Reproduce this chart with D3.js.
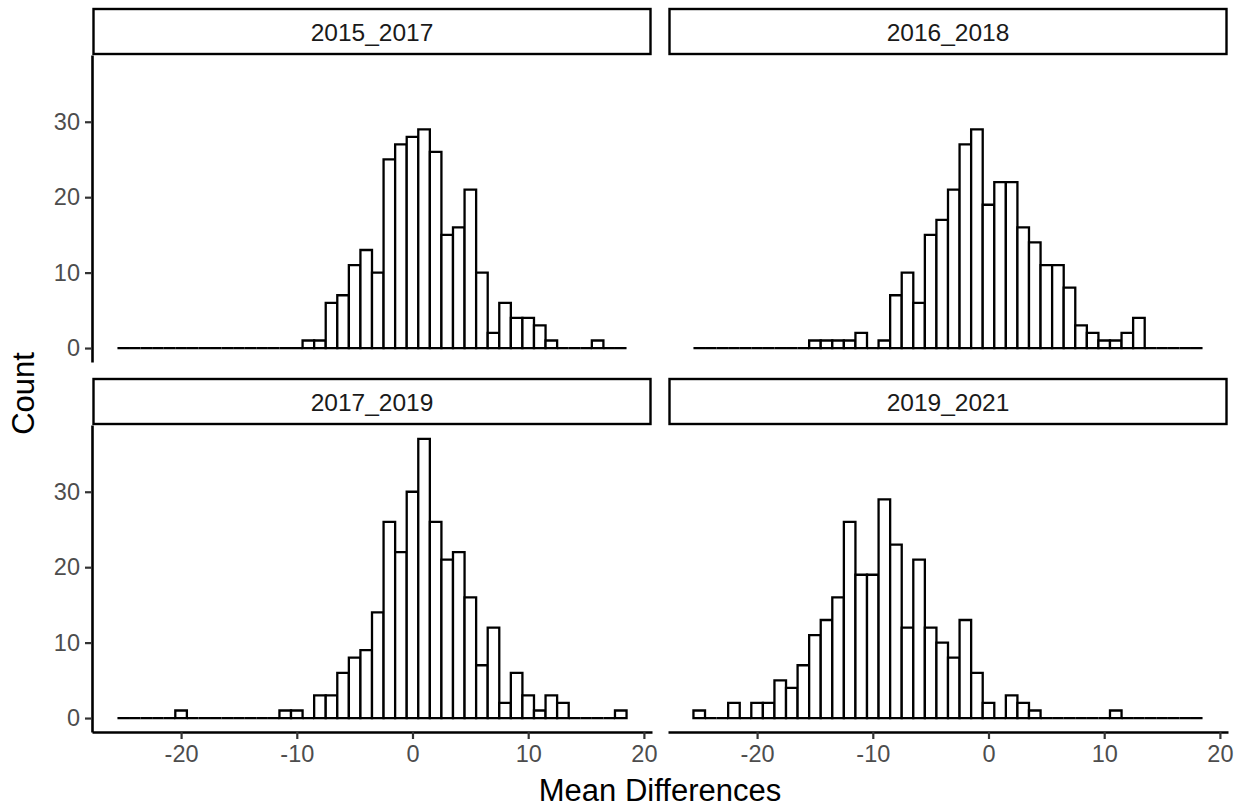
<!DOCTYPE html>
<html><head><meta charset="utf-8">
<script src="https://cdn.jsdelivr.net/npm/d3@7"></script>
<style>body{margin:0;background:#fff} svg{display:block}</style>
</head><body><svg id="chart" width="1244" height="809"></svg>
<script>
// ---- data ----
const panelNames = ["2015_2017", "2016_2018", "2017_2019", "2019_2021"];
const binCenters = [-25,-24,-23,-22,-21,-20,-19,-18,-17,-16,-15,-14,-13,-12,-11,-10,-9,-8,-7,-6,-5,-4,-3,-2,-1,0,1,2,3,4,5,6,7,8,9,10,11,12,13,14,15,16,17,18];
const binWidth = 1;
const counts2015_2017 = [0,0,0,0,0,0,0,0,0,0,0,0,0,0,0,0, 1,1,6,7,11,13,10,25,27,28,29,26,15,16,21,10,2,6,4,4,3,1,0,0,0,1, 0,0];
const counts2016_2018 = [0,0,0,0,0,0,0,0,0,0, 1,1,1,1,2,0,1,7,10,6,15,17,21,27,29,19,22,22,16,14,11,11,8,3,2,1,1,2,4, 0,0,0,0,0];
const counts2017_2019 = [0,0,0,0,0, 1, 0,0,0,0,0,0,0,0, 1,1,0,3,3,6,8,9,14,26,22,30,37,26,21,22,16,7,12,2,6,3,1,3,2, 0,0,0,0, 1];
const counts2019_2021 = [1,0,0,2,0,2,2,5,4,7,11,13,16,26,19,19,29,23,12,21,12,10,8,13,6,2,0,3,2,1,0,0,0,0,0,0,1, 0,0,0,0,0,0,0];
const xTickValues = [-20, -10, 0, 10, 20];
const yTickValues = [0, 10, 20, 30];
const xTitle = "Mean Differences";
const yTitle = "Count";

const seriesList = [counts2015_2017, counts2016_2018, counts2017_2019, counts2019_2021];

// ---- layout ----
const svg = d3.select("#chart");
const panelW = 560, panelH = 307, stripH = 47;
const colX = [92, 668], rowY = [55, 425];
const font = "'Liberation Sans', Arial, sans-serif";
const tickFont = 23.5, stripFont = 24.5, titleFont = 31;

const xMin = d3.min(binCenters) - binWidth / 2, xMax = d3.max(binCenters) + binWidth / 2;
const xPad = (xMax - xMin) * 0.05;
const x = d3.scaleLinear().domain([xMin - xPad, xMax + xPad]).range([0, panelW]);
const yMaxVal = d3.max(seriesList, s => d3.max(s));
const yPad = yMaxVal * 0.05;
const y = d3.scaleLinear().domain([-yPad, yMaxVal + yPad]).range([panelH, 0]);
const fmt = v => String(v);

panelNames.forEach((name, i) => {
  const col = i % 2, row = Math.floor(i / 2);
  const g = svg.append("g").attr("transform", `translate(${colX[col]},${rowY[row]})`);
  const counts = seriesList[i];

  // strip
  const strip = svg.append("g").attr("transform", `translate(${colX[col]},${rowY[row] - stripH})`);
  strip.append("rect").attr("x", 1.5).attr("y", 1).attr("width", panelW - 3).attr("height", stripH - 2)
    .attr("fill", "#fff").attr("stroke", "#000").attr("stroke-width", 2.4);
  strip.append("text").attr("x", panelW / 2).attr("y", stripH / 2 + 1).attr("text-anchor", "middle")
    .attr("dominant-baseline", "central").attr("font-family", font).attr("font-size", stripFont)
    .attr("fill", "#1a1a1a").text(name);

  // bars
  g.selectAll("path.bar").data(binCenters.map((c, k) => ({c, n: counts[k]})))
    .enter().append("path").attr("class", "bar")
    .attr("d", d => {
      const x0 = x(d.c - binWidth / 2), x1 = x(d.c + binWidth / 2);
      const y0 = y(0), y1 = y(d.n);
      return `M${x0},${y0}V${y1}H${x1}V${y0}Z`;
    })
    .attr("fill", "#fff").attr("stroke", "#000").attr("stroke-width", 2.3)
    .attr("stroke-linejoin", "miter");

  // y axis on left column
  if (col === 0) {
    const ya = g.append("g").call(d3.axisLeft(y).tickValues(yTickValues).tickFormat(fmt).tickSize(7).tickSizeOuter(0).tickPadding(5));
    ya.select(".domain").attr("stroke", "#000").attr("stroke-width", 2.6);
    ya.selectAll(".tick line").attr("stroke", "#333").attr("stroke-width", 2.2);
    ya.selectAll(".tick text").attr("font-family", font).attr("font-size", tickFont).attr("fill", "#4d4d4d");
  }
  // x axis on bottom row
  if (row === 1) {
    const xa = g.append("g").attr("transform", `translate(0,${panelH})`)
      .call(d3.axisBottom(x).tickValues(xTickValues).tickFormat(fmt).tickSize(7).tickSizeOuter(0).tickPadding(6));
    xa.select(".domain").attr("stroke", "#000").attr("stroke-width", 2.6);
    xa.selectAll(".tick line").attr("stroke", "#333").attr("stroke-width", 2.2);
    xa.selectAll(".tick text").attr("font-family", font).attr("font-size", tickFont).attr("fill", "#4d4d4d");
  }
});

// axis titles
svg.append("text").attr("x", (colX[0] + colX[1] + panelW) / 2).attr("y", 801)
  .attr("text-anchor", "middle").attr("font-family", font).attr("font-size", titleFont).attr("fill", "#000").text(xTitle);
svg.append("text").attr("transform", `translate(34,${(rowY[0] + rowY[1] + panelH) / 2}) rotate(-90)`)
  .attr("text-anchor", "middle").attr("font-family", font).attr("font-size", titleFont).attr("fill", "#000").text(yTitle);
</script>
</body></html>
